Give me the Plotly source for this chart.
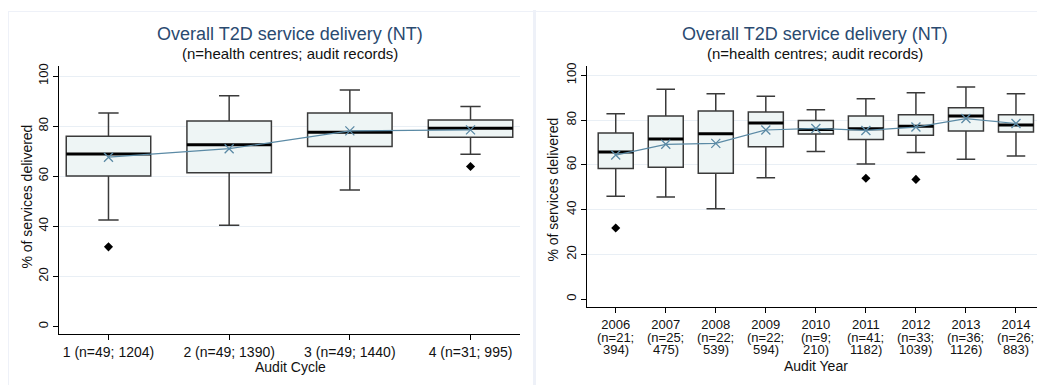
import plotly.graph_objects as go

# ---------------- data: left panel (audit cycles) ----------------
cycle_labels = ["1 (n=49; 1204)", "2 (n=49; 1390)", "3 (n=49; 1440)", "4 (n=31; 995)"]
cyc_q1 = [60.1, 61.4, 71.9, 75.6]
cyc_median = [68.9, 72.6, 77.6, 79.2]
cyc_q3 = [76.0, 82.1, 85.3, 82.5]
cyc_lower = [42.5, 40.4, 54.5, 68.8]
cyc_upper = [85.3, 92.1, 94.4, 87.9]
cyc_mean = [67.6, 71.0, 78.1, 78.5]
cyc_out_idx = [0, 3]
cyc_out_val = [31.8, 63.9]

# ---------------- data: right panel (audit years) ----------------
years = ["2006", "2007", "2008", "2009", "2010", "2011", "2012", "2013", "2014"]
yr_n_centres = [21, 25, 22, 22, 9, 41, 33, 36, 26]
yr_n_records = [394, 475, 539, 594, 210, 1182, 1039, 1126, 883]
yr_q1 = [58.4, 58.9, 56.3, 68.1, 73.8, 71.4, 73.2, 75.2, 74.7]
yr_median = [65.8, 71.6, 73.9, 78.7, 75.8, 76.1, 77.3, 81.8, 77.8]
yr_q3 = [74.2, 81.9, 84.1, 83.6, 79.8, 81.9, 82.4, 85.5, 82.4]
yr_lower = [46.0, 45.6, 40.4, 54.2, 66.0, 60.4, 65.5, 62.5, 64.0]
yr_upper = [82.9, 93.8, 91.8, 90.7, 84.6, 89.6, 92.3, 94.8, 91.8]
yr_mean = [64.4, 69.2, 69.6, 75.6, 76.3, 75.4, 76.9, 80.7, 78.5]
yr_out_idx = [0, 5, 6]
yr_out_val = [31.8, 54.0, 53.5]

y_ticks = [0, 20, 40, 60, 80, 100]

FONT = "Arial, Liberation Sans, sans-serif"
BOX_FILL = "#eef5f5"
BOX_LINE = "#3a3a3a"
MEAN_COL = "#5b8aa5"
TITLE_COL = "#2a4a70"
FRAME = "#eef1f8"
BOX_W = 0.7

fig = go.Figure()


def add_panel(xa, ya, n, q1, med, q3, lo, hi, mean, out_idx, out_val, whisk):
    xs = list(range(n))
    fig.add_trace(go.Box(
        x=xs, q1=q1, median=med, q3=q3, lowerfence=lo, upperfence=hi,
        width=BOX_W, whiskerwidth=whisk, fillcolor=BOX_FILL,
        line=dict(color=BOX_LINE, width=1.5), boxpoints=False,
        xaxis=xa, yaxis=ya, showlegend=False, hoverinfo="skip"))
    # thick median bars
    mx, my = [], []
    for i in xs:
        mx += [i - BOX_W / 2, i + BOX_W / 2, None]
        my += [med[i], med[i], None]
    fig.add_trace(go.Scatter(x=mx, y=my, mode="lines",
                             line=dict(color="black", width=3),
                             xaxis=xa, yaxis=ya, showlegend=False, hoverinfo="skip"))
    # outliers
    fig.add_trace(go.Scatter(x=out_idx, y=out_val, mode="markers",
                             marker=dict(symbol="diamond", size=7, color="black"),
                             xaxis=xa, yaxis=ya, showlegend=False, hoverinfo="skip"))
    # mean line
    fig.add_trace(go.Scatter(x=xs, y=mean, mode="lines+markers",
                             line=dict(color=MEAN_COL, width=1.2),
                             marker=dict(symbol="x-thin", size=9,
                                         line=dict(color=MEAN_COL, width=1.3)),
                             xaxis=xa, yaxis=ya, showlegend=False, hoverinfo="skip"))


add_panel("x", "y", len(cycle_labels), cyc_q1, cyc_median, cyc_q3, cyc_lower,
          cyc_upper, cyc_mean, cyc_out_idx, cyc_out_val, 0.24)
add_panel("x2", "y2", len(years), yr_q1, yr_median, yr_q3, yr_lower,
          yr_upper, yr_mean, yr_out_idx, yr_out_val, 0.53)

W, H = 1045, 385
OFF = 8  # page body margin in the browser


def px(x):
    return (x - OFF) / W


def py(y):
    return 1 - (y - OFF) / H


common_x = dict(showline=True, linecolor="black", linewidth=1, ticks="outside",
                ticklen=5, tickcolor="black", showgrid=False, zeroline=False,
                tickfont=dict(family=FONT, size=14, color="#111"))
common_y = dict(showline=True, linecolor="black", linewidth=1, ticks="outside",
                ticklen=5, tickcolor="black", showgrid=True, gridcolor="#e9eff5",
                zeroline=True, zerolinecolor="white", zerolinewidth=1,
                tickvals=y_ticks, tickangle=-90,
                tickfont=dict(family=FONT, size=13, color="#111"))

n1 = len(cycle_labels)
n2 = len(years)
fig.update_layout(
    width=W, height=H, margin=dict(l=0, r=0, t=0, b=0),
    paper_bgcolor="white", plot_bgcolor="white",
    font=dict(family=FONT),
    xaxis=dict(domain=[px(59), px(520)], range=[-0.41, n1 - 1 + 0.41],
               tickvals=list(range(n1)), ticktext=cycle_labels, anchor="y",
               **common_x),
    yaxis=dict(domain=[py(334), py(63)], range=[-3.2, 104.2], anchor="x",
               **common_y),
    xaxis2=dict(domain=[px(586.7), px(1045)], range=[-0.58, n2 - 1 + 0.58],
                tickvals=list(range(n2)), ticktext=years, anchor="y2",
                **common_x),
    yaxis2=dict(domain=[py(306.7), py(63)], range=[-3.7, 104.4], anchor="x2",
                **common_y),
)
fig.update_xaxes(selector=dict(anchor="y2"), tickfont=dict(family=FONT, size=13, color="#111"))


def txt(text, x, y, size, color="#111", xref="paper", angle=0):
    return dict(text=text, x=x, y=y, xref=xref, yref="paper", showarrow=False,
                xanchor="center", yanchor="middle", textangle=angle,
                font=dict(family=FONT, size=size, color=color))


ann = []
for cx in (290, 815):
    ann.append(txt("Overall T2D service delivery (NT)", px(cx), py(31), 18, TITLE_COL))
    ann.append(txt("(n=health centres; audit records)", px(cx), py(51), 15))
ann.append(txt("Audit Cycle", px(290), py(367), 14))
ann.append(txt("Audit Year", px(815.7), py(366), 14))
ann.append(txt("% of services delivered", px(27), py(195), 14, angle=-90))
ann.append(txt("% of services delivered", px(553), py(188), 14, angle=-90))
# second and third lines of year tick labels
for i in range(n2):
    ann.append(txt(f"(n={yr_n_centres[i]};", i, py(337), 13, xref="x2"))
    ann.append(txt(f"{yr_n_records[i]})", i, py(349.5), 13, xref="x2"))
fig.update_layout(annotations=ann)

# light frame lines between panels
fig.update_layout(shapes=[
    dict(type="rect", xref="paper", yref="paper", x0=0, x1=1, y0=py(9), y1=1,
         line=dict(width=0), fillcolor=FRAME, layer="below"),
    dict(type="rect", xref="paper", yref="paper", x0=0, x1=px(9), y0=0, y1=1,
         line=dict(width=0), fillcolor=FRAME, layer="below"),
    dict(type="rect", xref="paper", yref="paper", x0=px(533), x1=px(536), y0=0, y1=py(7),
         line=dict(width=0), fillcolor=FRAME, layer="below"),
])

fig.write_html("out.html")
